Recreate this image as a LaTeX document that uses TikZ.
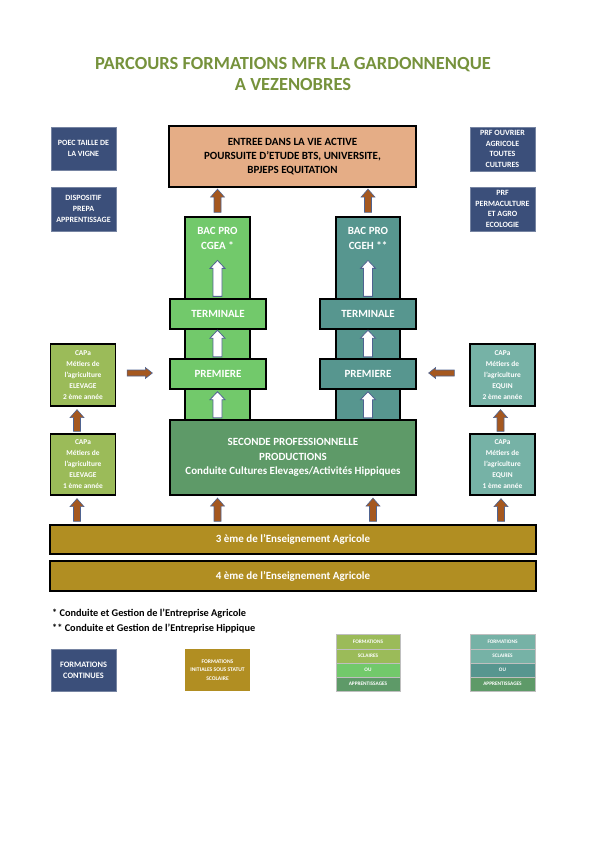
\documentclass[tikz,border=0pt]{standalone}
\usepackage{fontspec}
\setmainfont{Carlito}
\usetikzlibrary{calc}
\definecolor{cblue}{HTML}{3B4F7A}
\definecolor{csalmon}{HTML}{E5AD86}
\definecolor{cgreen}{HTML}{72C96B}
\definecolor{cteal}{HTML}{57968F}
\definecolor{cmid}{HTML}{5E9A68}
\definecolor{colive}{HTML}{9BBB59}
\definecolor{cteall}{HTML}{76B2A6}
\definecolor{cgold}{HTML}{B18E22}
\definecolor{carrow}{HTML}{A5581F}
\definecolor{cline}{HTML}{4F6390}
\definecolor{ctitle}{HTML}{76923C}
\newcommand\blockarrow[6]{%
  \coordinate (ba-A) at #5;
  \coordinate (ba-B) at #6;
  \coordinate (ba-C) at ($(ba-B)!#4!(ba-A)$);
  \draw[#1] ($(ba-A)!#2!90:(ba-B)$) -- ($(ba-C)!#2!-90:(ba-A)$) -- ($(ba-C)!#3!-90:(ba-A)$) -- (ba-B) -- ($(ba-C)!#3!90:(ba-A)$) -- ($(ba-C)!#2!90:(ba-A)$) -- ($(ba-A)!#2!-90:(ba-B)$) -- cycle;
}
\tikzset{
  box/.style={draw=black, line width=1.3pt, rectangle, inner sep=0pt, align=center, text=white, font=\bfseries\fontsize{11}{14.5}\selectfont},
  colbox/.style={draw=black, line width=1.3pt, rectangle, inner sep=0pt},
  boxtext/.style={inner sep=0pt, align=center, text=white, font=\bfseries\fontsize{11}{15}\selectfont},
  bluebox/.style={rectangle, fill=cblue, draw=cblue!70!white, line width=0.4pt, inner sep=0pt, align=center, text=white, minimum width=65pt, font=\bfseries\fontsize{8}{10.8}\selectfont},
  capbox/.style={draw=black, line width=1.3pt, rectangle, inner sep=0pt, align=center, text=white, minimum width=65pt, font=\bfseries\fontsize{7.4}{11}\selectfont},
  barbox/.style={draw=black, line width=1.3pt, rectangle, fill=cgold, inner sep=0pt, align=center, text=white, minimum width=486pt, font=\bfseries\fontsize{11}{12}\selectfont},
  legrow/.style={rectangle, inner sep=0pt, draw=white!75!black, line width=0.3pt, text=white, font=\bfseries\fontsize{5.3}{6}\selectfont, minimum height=14pt},
  orangearrow/.style={fill=carrow, draw=cline, line width=0.6pt},
  whitearrow/.style={fill=white, draw=cline, line width=0.8pt},
  notetext/.style={anchor=west, inner sep=0pt, font=\bfseries\fontsize{10.3}{12}\selectfont}
}
\begin{document}
\begin{tikzpicture}[x=1pt, y=-1pt]
\useasboundingbox (0,0) rectangle (595,841);
% title
\node[align=center, text=ctitle, font=\bfseries\fontsize{18.5}{21}\selectfont] (title) at (293,73.5) {PARCOURS FORMATIONS MFR LA GARDONNENQUE\\A VEZENOBRES};
% side blue boxes
\node[bluebox, minimum height=43pt] (poec) at (83.5,148.5) {POEC TAILLE DE\\LA VIGNE};
\node[bluebox, minimum height=44pt] (dispo) at (83.5,209) {DISPOSITIF\\PREPA\\APPRENTISSAGE};
\node[bluebox, minimum height=44pt] (prf1) at (502.5,149) {PRF OUVRIER\\AGRICOLE\\TOUTES\\CULTURES};
\node[bluebox, minimum height=44pt] (prf2) at (502.5,209) {PRF\\PERMACULTURE\\ET AGRO\\ECOLOGIE};
% top box
\node[box, fill=csalmon, text=black, minimum width=247pt, minimum height=61pt, font=\bfseries\fontsize{11}{14}\selectfont] (entree) at (292.5,156.5) {ENTREE DANS LA VIE ACTIVE\\POURSUITE D'ETUDE BTS, UNIVERSITE,\\BPJEPS EQUITATION};
% columns
\node[colbox, fill=cgreen, minimum width=65pt, minimum height=203pt] (colL) at (217.5,318.5) {};
\node[colbox, fill=cteal, minimum width=64pt, minimum height=203pt] (colR) at (368,318.5) {};
\node[boxtext] (bacL) at (217.5,238.5) {BAC PRO\\CGEA *};
\node[boxtext] (bacR) at (368,238.5) {BAC PRO\\CGEH **};
\node[box, fill=cgreen, minimum width=96pt, minimum height=30pt] (termL) at (218,314) {TERMINALE};
\node[box, fill=cteal, minimum width=96pt, minimum height=30pt] (termR) at (368,314) {TERMINALE};
\node[box, fill=cgreen, minimum width=96pt, minimum height=30pt] (premL) at (218,374) {PREMIERE};
\node[box, fill=cteal, minimum width=96pt, minimum height=30pt] (premR) at (368,374) {PREMIERE};
\node[box, fill=cmid, minimum width=246pt, minimum height=75pt] (seconde) at (293,457.5) {SECONDE PROFESSIONNELLE\\PRODUCTIONS\\Conduite Cultures Elevages/Activités Hippiques};
% CAPa boxes
\node[capbox, fill=colive, minimum height=62pt] (capL2) at (83,375) {CAPa\\Métiers de\\l'agriculture\\ELEVAGE\\2 ème année};
\node[capbox, fill=colive, minimum height=61pt] (capL1) at (83,464.5) {CAPa\\Métiers de\\l'agriculture\\ELEVAGE\\1 ème année};
\node[capbox, fill=cteall, minimum height=62pt] (capR2) at (502.5,375) {CAPa\\Métiers de\\l'agriculture\\EQUIN\\2 ème année};
\node[capbox, fill=cteall, minimum height=61pt] (capR1) at (502.5,464.5) {CAPa\\Métiers de\\l'agriculture\\EQUIN\\1 ème année};
% bars
\node[barbox, minimum height=29pt] (b3) at (293,539.5) {3 ème de l'Enseignement Agricole};
\node[barbox, minimum height=30pt] (b4) at (293,576) {4 ème de l'Enseignement Agricole};
% footnotes
\node[notetext] (n1) at (52,614) {* Conduite et Gestion de l'Entreprise Agricole};
\node[notetext] (n2) at (52,628.5) {** Conduite et Gestion de l'Entreprise Hippique};
% legend
\node[bluebox, minimum height=42pt, font=\bfseries\fontsize{8.3}{11}\selectfont] (legblue) at (83.5,670) {FORMATIONS\\CONTINUES};
\node[rectangle, fill=cgold, inner sep=0pt, minimum width=65pt, minimum height=42pt, align=center, text=white, font=\bfseries\fontsize{5.6}{8.5}\selectfont] (leggold) at (217.5,670) {FORMATIONS\\INITIALES SOUS STATUT\\SCOLAIRE};
\node[legrow, fill=colive, minimum width=64pt, minimum height=15pt] (lg1) at (368,641.5) {FORMATIONS};
\node[legrow, fill=colive, minimum width=64pt] (lg2) at (368,656) {SCLAIRES};
\node[legrow, fill=cgreen, minimum width=64pt] (lg3) at (368,670) {OU};
\node[legrow, fill=cmid, minimum width=64pt] (lg4) at (368,684) {APPRENTISSAGES};
\node[legrow, fill=cteall, minimum width=65pt, minimum height=15pt] (lt1) at (502.5,641.5) {FORMATIONS};
\node[legrow, fill=cteall, minimum width=65pt] (lt2) at (502.5,656) {SCLAIRES};
\node[legrow, fill=cteal, minimum width=65pt] (lt3) at (502.5,670) {OU};
\node[legrow, fill=cmid, minimum width=65pt] (lt4) at (502.5,684) {APPRENTISSAGES};
% orange arrows to top box
\blockarrow{orangearrow}{3.5pt}{7pt}{8pt}{($(colL.north)+(0,-4)$)}{($(colL.north |- entree.south)+(0,1.5)$)}
\blockarrow{orangearrow}{3.5pt}{7pt}{8pt}{($(colR.north)+(0,-4)$)}{($(colR.north |- entree.south)+(0,1.5)$)}
% white arrows in columns
\blockarrow{whitearrow}{4.5pt}{7.5pt}{8pt}{($(colL.north |- termL.north)+(0,-2)$)}{($(colL.north)+(0,44)$)}
\blockarrow{whitearrow}{4.5pt}{7.5pt}{8pt}{($(colR.north |- termR.north)+(0,-2)$)}{($(colR.north)+(0,44)$)}
\blockarrow{whitearrow}{4.5pt}{7.5pt}{8pt}{($(colL.north |- premL.north)+(0,-1.5)$)}{($(colL.north |- termL.south)+(0,0.5)$)}
\blockarrow{whitearrow}{4.5pt}{7.5pt}{8pt}{($(colR.north |- premR.north)+(0,-1.5)$)}{($(colR.north |- termR.south)+(0,0.5)$)}
\blockarrow{whitearrow}{4.5pt}{7.5pt}{8pt}{($(colL.north |- seconde.north)+(0,-1.5)$)}{($(colL.north |- premL.south)+(0,2)$)}
\blockarrow{whitearrow}{4.5pt}{7.5pt}{8pt}{($(colR.north |- seconde.north)+(0,-1.5)$)}{($(colR.north |- premR.south)+(0,2)$)}
% horizontal arrows
\blockarrow{orangearrow}{3pt}{5.5pt}{7pt}{($(capL2.east)+(11,-2)$)}{($(premL.west)+(-17,-1)$)}
\blockarrow{orangearrow}{3pt}{5.5pt}{7pt}{($(capR2.west)+(-15,-2)$)}{($(premR.east)+(12,-1)$)}
% vertical arrows CAPa
\blockarrow{orangearrow}{3.5pt}{7pt}{8pt}{($(capL1.north)+(-6,-2)$)}{($(capL2.south)+(-6,3)$)}
\blockarrow{orangearrow}{3.5pt}{7pt}{8pt}{($(capR1.north)+(-2,-2)$)}{($(capR2.south)+(-2,3)$)}
\blockarrow{orangearrow}{3.5pt}{7pt}{8pt}{($(b3.north -| capL1.south)+(-6,-3)$)}{($(capL1.south)+(-6,3)$)}
\blockarrow{orangearrow}{3.5pt}{7pt}{8pt}{($(b3.north -| capR1.south)+(-1.5,-3)$)}{($(capR1.south)+(-1.5,3)$)}
\blockarrow{orangearrow}{3.5pt}{7pt}{8pt}{($(b3.north -| colL.south)+(0,-3)$)}{($(seconde.south -| colL.south)+(0,2.5)$)}
\blockarrow{orangearrow}{3.5pt}{7pt}{8pt}{($(b3.north -| colR.south)+(5,-3)$)}{($(seconde.south -| colR.south)+(5,2.5)$)}
\end{tikzpicture}
\end{document}
